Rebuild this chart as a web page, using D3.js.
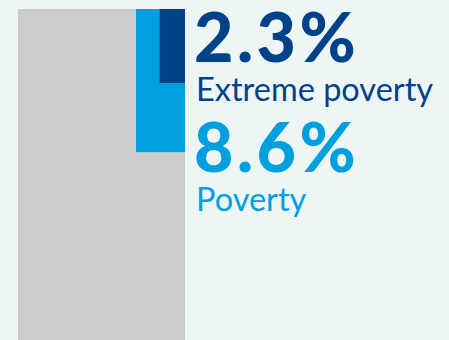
<!DOCTYPE html>
<html>
<head>
<meta charset="utf-8">
<script src="https://cdn.jsdelivr.net/npm/d3@7"></script>
<style>
  html, body { margin: 0; padding: 0; background: #edf6f5; }
  svg { display: block; }
</style>
</head>
<body>
<div id="chart"></div>
<script>
// shares of the population (percent), nested inside 100%
var labels = ["Poverty", "Extreme poverty"];
var values = [8.6, 2.3];
var colors = ["#009fdf", "#00428a"];
var total = 100;

var width = 449, height = 340;

var svg = d3.select("#chart")
  .append("svg")
    .attr("width", width)
    .attr("height", height);

// area-proportional squares anchored at the top right of the grey block
var box = {x: 18, y: 9, w: 167, h: 488};
var side = d3.scaleSqrt().domain([0, total]).range([0, 1]);

svg.append("rect")
  .attr("x", box.x)
  .attr("y", box.y)
  .attr("width", box.w)
  .attr("height", box.h)
  .attr("fill", "#cccccc");

svg.selectAll("rect.share")
  .data(values)
  .enter()
  .append("rect")
    .attr("class", "share")
    .attr("x", function(d) { return box.x + box.w - box.w * side(d); })
    .attr("y", box.y)
    .attr("width", function(d) { return box.w * side(d); })
    .attr("height", function(d) { return box.h * side(d); })
    .attr("fill", function(d, i) { return colors[i]; });

// labels, extreme poverty first
var order = [1, 0];
var textY = d3.scaleOrdinal().domain(order).range([62, 172]);

order.forEach(function(i) {
  svg.append("text")
    .attr("x", 194)
    .attr("y", textY(i))
    .attr("fill", colors[i])
    .style("font-family", "Lato, 'Open Sans', sans-serif")
    .style("font-weight", 900)
    .style("font-size", "68px")
    .style("letter-spacing", "3.5px")
    .text(values[i] + "%");
  svg.append("text")
    .attr("x", 196)
    .attr("y", textY(i) + 39)
    .attr("fill", colors[i])
    .style("font-family", "Lato, 'Open Sans', sans-serif")
    .style("font-size", "32.5px")
    .text(labels[i]);
});
</script>
</body>
</html>
